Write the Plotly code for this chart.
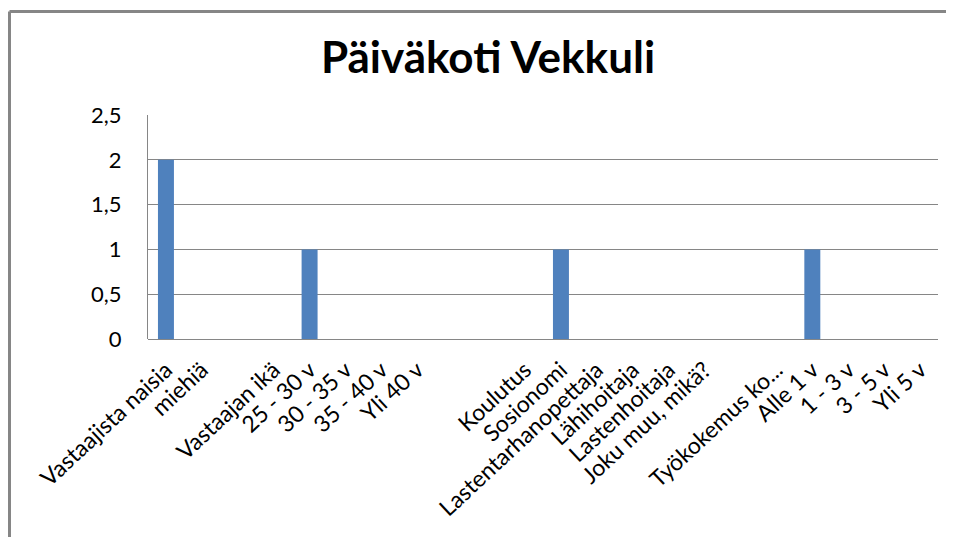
import plotly.graph_objects as go

categories = [
    "Vastaajista naisia", "miehiä", "", "Vastaajan ikä", "25 - 30 v", "30 - 35 v",
    "35 - 40 v", "Yli 40 v", "", "", "Koulutus", "Sosionomi", "Lastentarhanopettaja",
    "Lähihoitaja", "Lastenhoitaja", "Joku muu, mikä?", "", "Työkokemus ko...",
    "Alle 1 v", "1 - 3 v", "3 - 5 v", "Yli 5 v",
]
values = [2, None, None, None, 1, None, None, None, None, None, None, 1, None,
          None, None, None, None, None, 1, None, None, None]
y_ticks = [0, 0.5, 1, 1.5, 2, 2.5]

positions = list(range(len(categories)))

OFF = 8  # page body margin
W, H = 954 - OFF, 537 - OFF
ml, mt = 148 - OFF, 115 - OFF
pw, ph = 790, 224
mr = W - ml - pw
mb = H - mt - ph

fig = go.Figure(go.Bar(x=positions, y=values, marker_color="#4F81BD",
                       marker_line_width=0, hoverinfo="skip"))

gray = "#868686"
fig.update_layout(
    width=W, height=H,
    margin=dict(l=ml, r=mr, t=mt, b=mb),
    paper_bgcolor="white", plot_bgcolor="white",
    separators=", ",
    font=dict(family="Lato, Carlito, sans-serif", size=21, color="black"),
    title=dict(text="<b>Päiväkoti Vekkuli</b>", x=(488 - OFF) / W, xanchor="center",
               y=1 - (58 - OFF) / H, yanchor="middle",
               font=dict(size=44, family="Lato, sans-serif", color="black")),
    bargap=0.555,
    showlegend=False,
    xaxis=dict(tickmode="array", tickvals=positions, ticktext=categories,
               tickangle=-43, range=[-0.5, len(categories) - 0.5],
               showgrid=False, zeroline=False, showline=False, ticks="",
               ticklabelstandoff=12,
               tickfont=dict(size=23), automargin=False),
    yaxis=dict(range=[0, 2.5], tickmode="array", tickvals=y_ticks,
               showgrid=True, gridcolor=gray, gridwidth=1,
               zeroline=True, zerolinecolor=gray, zerolinewidth=1,
               showline=True, linecolor=gray, linewidth=1,
               ticks="", ticklabelstandoff=21, tickfont=dict(size=22),
               automargin=False),
)

# chart frame (cut by the window at right and bottom)
x_left = (9.5 - 148) / pw
y_top = 1 + (115 - 11.5) / ph
x_right = (W + 20 - ml) / pw
y_bot = -(mb + 20) / ph
fig.add_shape(type="line", xref="paper", yref="paper", x0=x_left, x1=x_left,
              y0=y_bot, y1=y_top, line=dict(color=gray, width=3))
fig.add_shape(type="line", xref="paper", yref="paper", x0=x_left, x1=x_right,
              y0=y_top, y1=y_top, line=dict(color=gray, width=3))

fig.write_html("out.html")
